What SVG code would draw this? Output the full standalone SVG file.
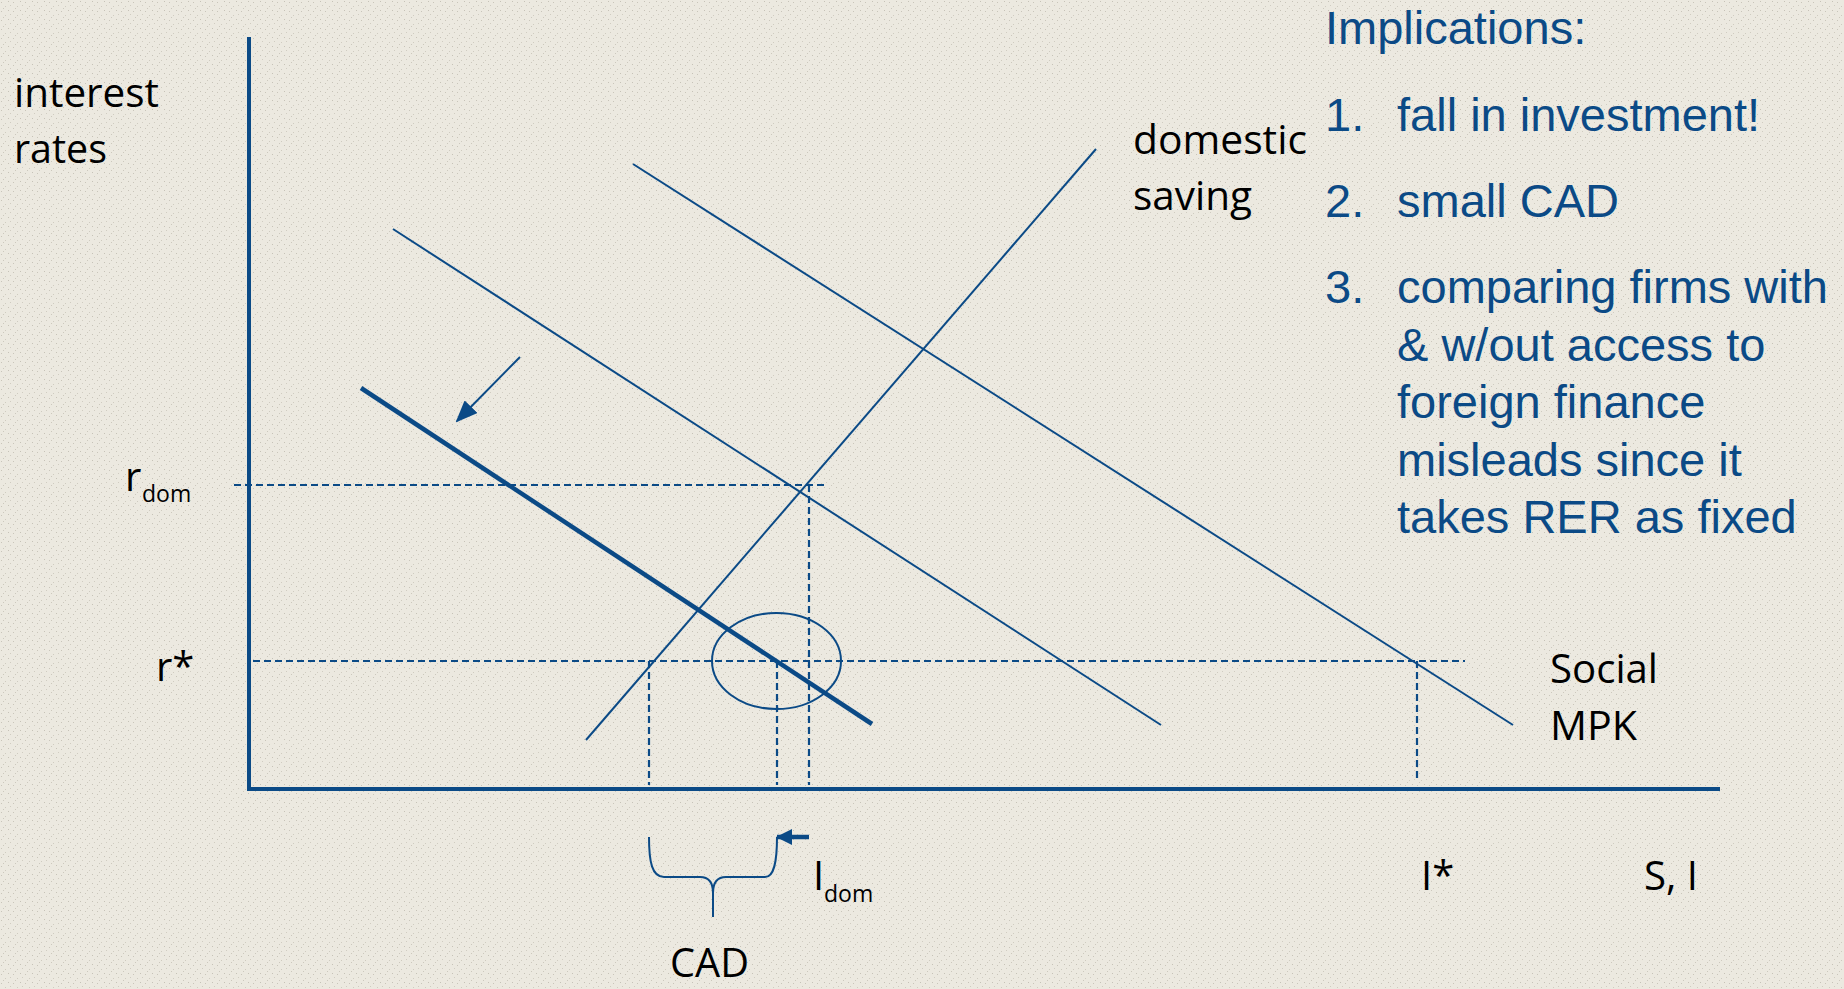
<svg xmlns="http://www.w3.org/2000/svg" width="1844" height="989" viewBox="0 0 1844 989">
  <defs>
    <pattern id="grain" width="12" height="9" patternUnits="userSpaceOnUse">
      <rect width="12" height="9" fill="#ECE9E0"/>
      <rect x="1" y="2" width="1" height="1" fill="#C9C5BA"/>
      <rect x="5" y="6" width="1" height="1" fill="#CFCBC0"/>
      <rect x="8" y="1" width="1" height="1" fill="#C6C2B7"/>
      <rect x="10" y="5" width="1" height="1" fill="#D0CCC1"/>
      <rect x="3" y="8" width="1" height="1" fill="#CCC8BD"/>
    </pattern>
    <marker id="head" markerWidth="22" markerHeight="18" refX="20" refY="9" orient="auto" markerUnits="userSpaceOnUse">
      <path d="M0,0 L22,9 L0,18 Z" fill="#0B4A86"/>
    </marker>
    <marker id="head2" markerWidth="16" markerHeight="16" refX="15" refY="8" orient="auto" markerUnits="userSpaceOnUse">
      <path d="M0,0 L16,8 L0,16 Z" fill="#0B4A86"/>
    </marker>
  </defs>
  <style>
    .axis { stroke: #0B4A86; stroke-width: 4; fill: none; }
    .curve { stroke: #0B4A86; stroke-width: 2; fill: none; }
    .thick { stroke: #0B4A86; stroke-width: 4.5; fill: none; }
    .dash { stroke: #0B4A86; stroke-width: 2.2; stroke-dasharray: 7 4; fill: none; }
    .lbl { font-family: "Open Sans", "Noto Sans", sans-serif; font-size: 40px; fill: #000; }
    .sub { font-family: "Open Sans", "Noto Sans", sans-serif; font-size: 23px; fill: #000; }
    .blue { font-family: "Liberation Sans", Arial, sans-serif; font-size: 47px; fill: #0B4A86; }
  </style>

  <rect width="1844" height="989" fill="url(#grain)"/>

  <g id="axes">
    <line class="axis" x1="249" y1="37" x2="249" y2="791"/>
    <line class="axis" x1="247" y1="789" x2="1720" y2="789"/>
  </g>

  <g id="guides">
    <line class="dash" x1="234" y1="485" x2="824" y2="485"/>
    <line class="dash" x1="253" y1="661" x2="1465" y2="661"/>
    <line class="dash" x1="649" y1="661" x2="649" y2="785"/>
    <line class="dash" x1="777" y1="661" x2="777" y2="785"/>
    <line class="dash" x1="809" y1="485" x2="809" y2="785"/>
    <line class="dash" x1="1417" y1="661" x2="1417" y2="782"/>
  </g>

  <g id="connectors">
    <line id="saving" class="curve" x1="586" y1="740" x2="1096" y2="149"/>
    <line id="social-mpk" class="curve" x1="633" y1="164" x2="1513" y2="725"/>
    <line id="mpk-middle" class="curve" x1="393" y1="229" x2="1161" y2="725"/>
    <line id="mpk-shifted" class="thick" x1="361" y1="388" x2="872" y2="724"/>
    <line id="shift-arrow" class="curve" stroke-width="2.5" x1="520" y1="357" x2="457" y2="421" marker-end="url(#head)"/>
    <line id="idom-arrow" class="thick" x1="809" y1="837" x2="777" y2="837" marker-end="url(#head2)"/>
  </g>

  <g id="focus-ellipse">
    <ellipse class="curve" cx="776.5" cy="661" rx="64.5" ry="48"/>
  </g>

  <g id="cad-brace">
    <path class="curve" d="M649,837 C649,862 652,877 664,877 L700,877 C709,877 713,882 713,893 L713,917 M713,893 C713,882 717,877 726,877 L765,877 C774,877 777,862 777,837"/>
  </g>

  <g id="y-label">
    <text class="lbl" x="14" y="107" textLength="145" lengthAdjust="spacingAndGlyphs">interest</text>
    <text class="lbl" x="14" y="163" textLength="93" lengthAdjust="spacingAndGlyphs">rates</text>
  </g>
  <g id="saving-label">
    <text class="lbl" x="1133" y="154" textLength="174" lengthAdjust="spacingAndGlyphs">domestic</text>
    <text class="lbl" x="1133" y="210" textLength="119" lengthAdjust="spacingAndGlyphs">saving</text>
  </g>
  <g id="rdom-label">
    <text class="lbl" x="125" y="491">r</text>
    <text class="sub" x="142" y="502">dom</text>
  </g>
  <g id="rstar-label">
    <text class="lbl" x="156" y="681">r*</text>
  </g>
  <g id="mpk-label">
    <text class="lbl" x="1550" y="683" textLength="108" lengthAdjust="spacingAndGlyphs">Social</text>
    <text class="lbl" x="1550" y="740" textLength="87" lengthAdjust="spacingAndGlyphs">MPK</text>
  </g>
  <g id="istar-label">
    <text class="lbl" x="1421" y="890">I*</text>
  </g>
  <g id="si-label">
    <text class="lbl" x="1644" y="890" textLength="54" lengthAdjust="spacingAndGlyphs">S, I</text>
  </g>
  <g id="idom-label">
    <text class="lbl" x="813" y="890">I</text>
    <text class="sub" x="824" y="902">dom</text>
  </g>
  <g id="cad-label">
    <text class="lbl" x="670" y="977" textLength="79" lengthAdjust="spacingAndGlyphs">CAD</text>
  </g>

  <g id="implications">
    <text class="blue" x="1325" y="44">Implications:</text>
    <text class="blue" x="1325" y="131">1.</text>
    <text class="blue" x="1397" y="131">fall in investment!</text>
    <text class="blue" x="1325" y="217">2.</text>
    <text class="blue" x="1397" y="217">small CAD</text>
    <text class="blue" x="1325" y="303">3.</text>
    <text class="blue" x="1397" y="303">comparing firms with</text>
    <text class="blue" x="1397" y="361">&amp; w/out access to</text>
    <text class="blue" x="1397" y="418">foreign finance</text>
    <text class="blue" x="1397" y="476">misleads since it</text>
    <text class="blue" x="1397" y="533">takes RER as fixed</text>
  </g>
</svg>
